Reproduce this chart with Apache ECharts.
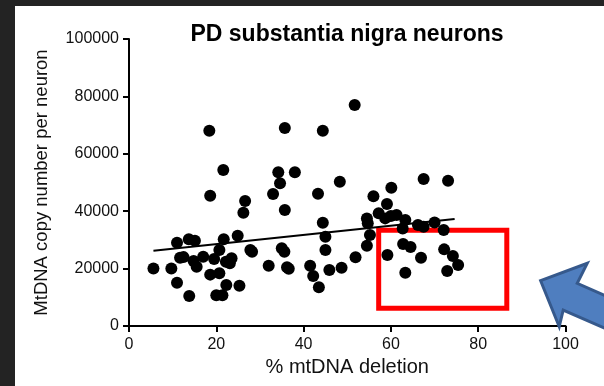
<!DOCTYPE html>
<html>
<head>
<meta charset="utf-8">
<script src="https://cdn.jsdelivr.net/npm/echarts@6/dist/echarts.min.js"></script>
<style>
  html, body {
    margin: 0;
    padding: 0;
    width: 604px;
    height: 386px;
    background: #232323;
    overflow: hidden;
  }
  #chart {
    position: absolute;
    left: 15px;
    top: 6px;
    width: 589px;
    height: 380px;
    background: #fff;
  }
</style>
</head>
<body>
<div id="chart"></div>
<script>
// % mtDNA deletion (x) and copy number per neuron (y)
const deletion = [
  5.6, 9.7, 11.0, 11.0, 11.7, 12.5, 13.8, 13.7, 15.1, 14.8,
  15.5, 17.0, 18.4, 18.6, 18.6, 19.5, 20.0, 20.7, 20.7, 21.4,
  21.6, 21.7, 22.2, 22.3, 23.1, 23.5, 24.9, 25.3, 26.2, 26.6,
  27.8, 28.2, 32.0, 33.0, 34.2, 34.6, 35.0, 35.6, 35.7, 35.7,
  36.2, 36.6, 38.0, 41.5, 42.2, 43.3, 43.5, 44.4, 44.4, 45.0,
  45.0, 45.9, 48.3, 48.7, 51.7, 51.9, 54.5, 54.5, 54.7, 55.2,
  56.0, 57.2, 58.7, 59.1, 59.2, 60.1, 60.0, 61.3, 62.7, 62.8,
  63.3, 63.3, 64.5, 66.2, 66.9, 67.5, 67.5, 70.0, 72.1, 72.2,
  72.9, 73.1, 74.2, 75.4
]
const copyNumber = [
  20000, 20000, 15100, 29000, 23800, 24000, 10450, 30200, 29700, 22650,
  20660, 24100, 68050, 45400, 17900, 23350, 10700, 18350, 26500, 10700,
  54350, 30200, 22400, 14300, 21850, 23600, 31450, 14050, 39500, 43550,
  26500, 25900, 21000, 46000, 53550, 49700, 27050, 25900, 69000, 40400,
  20450, 19960, 53550, 21000, 17400, 46100, 13500, 68050, 36000, 31100,
  26500, 19500, 50300, 20300, 77000, 23950, 37500, 28000, 35800, 31700,
  45200, 39250, 37500, 42500, 24750, 48200, 38300, 38650, 34000, 28550,
  36900, 18550, 27500, 35200, 23800, 51200, 34600, 36100, 33450, 26700,
  19150, 50600, 24400, 21250
]

// fitted line end points
const fitX = [5.6, 74.6]
const fitY = [26240, 37280]

// red highlight box corners
const boxX = [57.2, 86.55]
const boxY = [33380, 6200]

// where the blue arrow points
const arrowTip = [94.3, 15780]

const font = 'Liberation Sans, Arial, sans-serif'

const chart = echarts.init(document.getElementById('chart'))

const option = {
  animation: false,
  title: {
    text: 'PD substantia nigra neurons',
    left: 332,
    top: 17,
    padding: 0,
    textAlign: 'center',
    textStyle: {
      color: '#000',
      fontFamily: font,
      fontWeight: 'bold',
      fontSize: 23
    }
  },
  grid: {
    left: 114,
    right: 38.5,
    top: 33,
    bottom: 60
  },
  xAxis: {
    type: 'value',
    min: 0,
    max: 100,
    interval: 20,
    name: '% mtDNA deletion',
    nameLocation: 'middle',
    nameGap: 29,
    nameTextStyle: { color: '#111', fontFamily: font, fontSize: 20 },
    splitLine: { show: false },
    axisLine: { onZero: false, lineStyle: { color: '#000', width: 2 } },
    axisTick: { length: 6, lineStyle: { color: '#000', width: 2 } },
    axisLabel: { color: '#111', fontFamily: font, fontSize: 16, margin: 11 }
  },
  yAxis: {
    type: 'value',
    min: 0,
    max: 100000,
    interval: 20000,
    name: 'MtDNA copy number per neuron',
    nameLocation: 'middle',
    nameGap: 78,
    nameTextStyle: { color: '#111', fontFamily: font, fontSize: 18.5 },
    splitLine: { show: false },
    axisLine: { show: true, lineStyle: { color: '#000', width: 2 } },
    axisTick: { show: true, length: 6, lineStyle: { color: '#000', width: 2 } },
    axisLabel: {
      color: '#111',
      fontFamily: font,
      fontSize: 16,
      margin: 10,
      formatter: v => String(v)
    }
  },
  series: [
    {
      type: 'scatter',
      symbol: 'circle',
      symbolSize: 12,
      itemStyle: { color: '#000', opacity: 1 },
      data: deletion.map((d, i) => [d, copyNumber[i]]),
      markArea: {
        silent: true,
        itemStyle: {
          color: 'rgba(0,0,0,0)',
          borderColor: '#ff0000',
          borderWidth: 5
        },
        data: [[{ coord: [boxX[0], boxY[0]] }, { coord: [boxX[1], boxY[1]] }]]
      }
    },
    {
      type: 'line',
      showSymbol: false,
      symbol: 'none',
      lineStyle: { color: '#000', width: 2 },
      data: fitX.map((x, i) => [x, fitY[i]]),
      z: 3
    }
  ]
}

chart.setOption(option)

// blue arrow pointing up-left at the box; anchored to its tip on the axes
const tip = chart.convertToPixel({ gridIndex: 0 }, arrowTip)
const offsets = [
  [0, 0], [46.6, -17.4], [36.6, 2.6], [95, 28.5],
  [98, 62.5], [22.6, 29.3], [18.6, 46]
]
chart.setOption({
  graphic: [{
    type: 'polygon',
    z: 100,
    shape: { points: offsets.map(o => [tip[0] + o[0], tip[1] + o[1]]) },
    style: { fill: '#4f7ebf', stroke: '#36598c', lineWidth: 3, lineJoin: 'miter' }
  }]
})
</script>
</body>
</html>
